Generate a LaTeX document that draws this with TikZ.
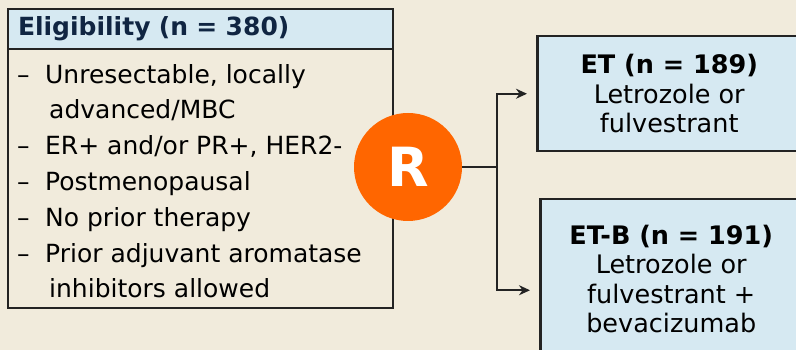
\documentclass[tikz,border=0pt]{standalone}
\usepackage{fontspec}
\setmainfont{DejaVu Sans}
\usepackage{xcolor}
\definecolor{bgbeige}{RGB}{241,235,220}
\definecolor{boxblue}{RGB}{214,233,242}
\definecolor{randorange}{RGB}{255,102,0}
\definecolor{hdrnavy}{RGB}{16,37,66}
\definecolor{edgegray}{RGB}{35,35,35}
\usetikzlibrary{arrows.meta,positioning,calc}

\newcommand\bitem[1]{\makebox[28pt][l]{--}#1}
\newcommand\bcont[1]{\hspace*{32pt}#1}

\begin{document}
\begin{tikzpicture}[x=1pt, y=1pt,
  ebox/.style={rectangle, draw=edgegray, line width=2pt, fill=bgbeige,
               minimum width=385pt, minimum height=299pt, inner sep=0pt},
  hbox/.style={rectangle, draw=edgegray, line width=2pt, fill=boxblue,
               minimum width=385pt, minimum height=40pt, text width=365pt,
               inner xsep=10pt, align=left, text=hdrnavy,
               font=\fontsize{25}{28}\selectfont\bfseries},
  abox/.style={rectangle, draw=edgegray, line width=2.5pt, fill=boxblue,
               inner sep=0pt, align=center,
               font=\fontsize{25.5}{29.5}\selectfont},
  rbox/.style={circle, fill=randorange, minimum size=108pt, inner sep=0pt,
               text=white, font=\fontsize{54}{54}\selectfont\bfseries},
  conn/.style={line width=2pt, draw=edgegray},
  arr/.style={-{Stealth[length=11pt, width=10pt]}, line width=2pt,
              draw=edgegray, shorten >=9pt}
]
\useasboundingbox (0,0) rectangle (796,350);
\fill[bgbeige] (0,0) rectangle (796,350);

% Eligibility panel
\node[ebox, anchor=north west] (elig) at (7,342) {};
\node[hbox, anchor=north west] (hdr) at (elig.north west) {Eligibility (n = 380)};
\node[anchor=north west, inner sep=0pt, align=left,
      font=\fontsize{25}{35.8}\selectfont] (crit) at (17,286)
  {\bitem{Unresectable, locally}\\
   \bcont{advanced/MBC}\\
   \bitem{ER+ and/or PR+, HER2-}\\
   \bitem{Postmenopausal}\\
   \bitem{No prior therapy}\\
   \bitem{Prior adjuvant aromatase}\\
   \bcont{inhibitors allowed}};

% Randomisation
\node[rbox] (rand) at (408,183) {R};

% Arms
\node[abox, anchor=north west, minimum width=264pt, minimum height=115pt] (et) at (536,315)
  {\textbf{ET (n = 189)}\\Letrozole or\\fulvestrant};
\node[abox, anchor=north west, minimum width=262pt, minimum height=160pt] (etb) at (539,152)
  {\textbf{ET-B (n = 191)}\\Letrozole or\\fulvestrant +\\bevacizumab};

% Arrows
\coordinate (split) at ($(rand.east)+(35,0)$);
\draw[conn] (rand.east) -- (split);
\draw[arr] (split) |- (et.west);
\draw[arr] (split) |- ([yshift=-11pt]etb.west);
\end{tikzpicture}
\end{document}
